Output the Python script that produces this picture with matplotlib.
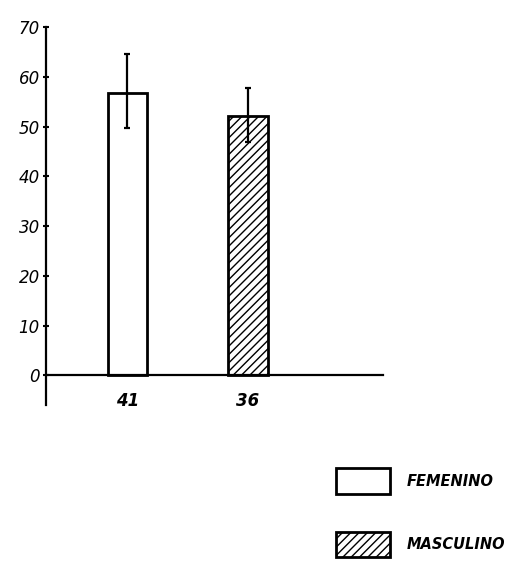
import matplotlib.pyplot as plt
import numpy as np

# sample sizes shown under the bars
groups = ["41", "36"]
series = ["FEMENINO", "MASCULINO"]
means = [56.8, 52.2]
err_low = [7.2, 5.4]
err_high = [7.8, 5.5]
hatches = ["", "////"]
y_ticks = [0, 10, 20, 30, 40, 50, 60, 70]

plt.rcParams["hatch.linewidth"] = 1.0

fig = plt.figure(figsize=(5.23, 5.62), dpi=100)
ax = fig.add_axes([0.088, 0.279, 0.644, 0.673])

x = np.arange(len(groups))
bars = []
for i in range(len(groups)):
    b = ax.bar(
        x[i], means[i], width=0.33, color="white", edgecolor="black",
        linewidth=2, hatch=hatches[i], label=series[i], zorder=2,
    )
    bars.append(b)
    ax.errorbar(
        x[i], means[i], yerr=[[err_low[i]], [err_high[i]]], fmt="none",
        ecolor="black", elinewidth=1.6, capsize=2.5, capthick=1.6, zorder=3,
    )

ax.set_xlim(-0.676, 2.12)
ax.set_ylim(-6, 70)

for s in ["top", "right"]:
    ax.spines[s].set_visible(False)
ax.spines["bottom"].set_position(("data", 0))
ax.spines["left"].set_linewidth(1.6)
ax.spines["bottom"].set_linewidth(1.6)
ax.spines["left"].set_bounds(-6, 70)

ax.set_yticks(y_ticks)
ax.set_yticklabels([str(t) for t in y_ticks], fontsize=12, style="italic")
ax.tick_params(axis="y", direction="inout", length=5, width=1.5, pad=2)

ax.set_xticks(x)
ax.set_xticklabels(groups, fontsize=12, style="italic", fontweight="bold")
ax.tick_params(axis="x", length=0, pad=12)

fig.legend(
    handles=[b[0] for b in bars], labels=series, loc="upper left",
    bbox_to_anchor=(0.618, 0.19), frameon=False,
    prop={"style": "italic", "weight": "bold", "size": 10.5},
    handlelength=3.7, handleheight=2.3, labelspacing=2.6, handletextpad=1.1,
)

plt.savefig("out.png", dpi=100)
